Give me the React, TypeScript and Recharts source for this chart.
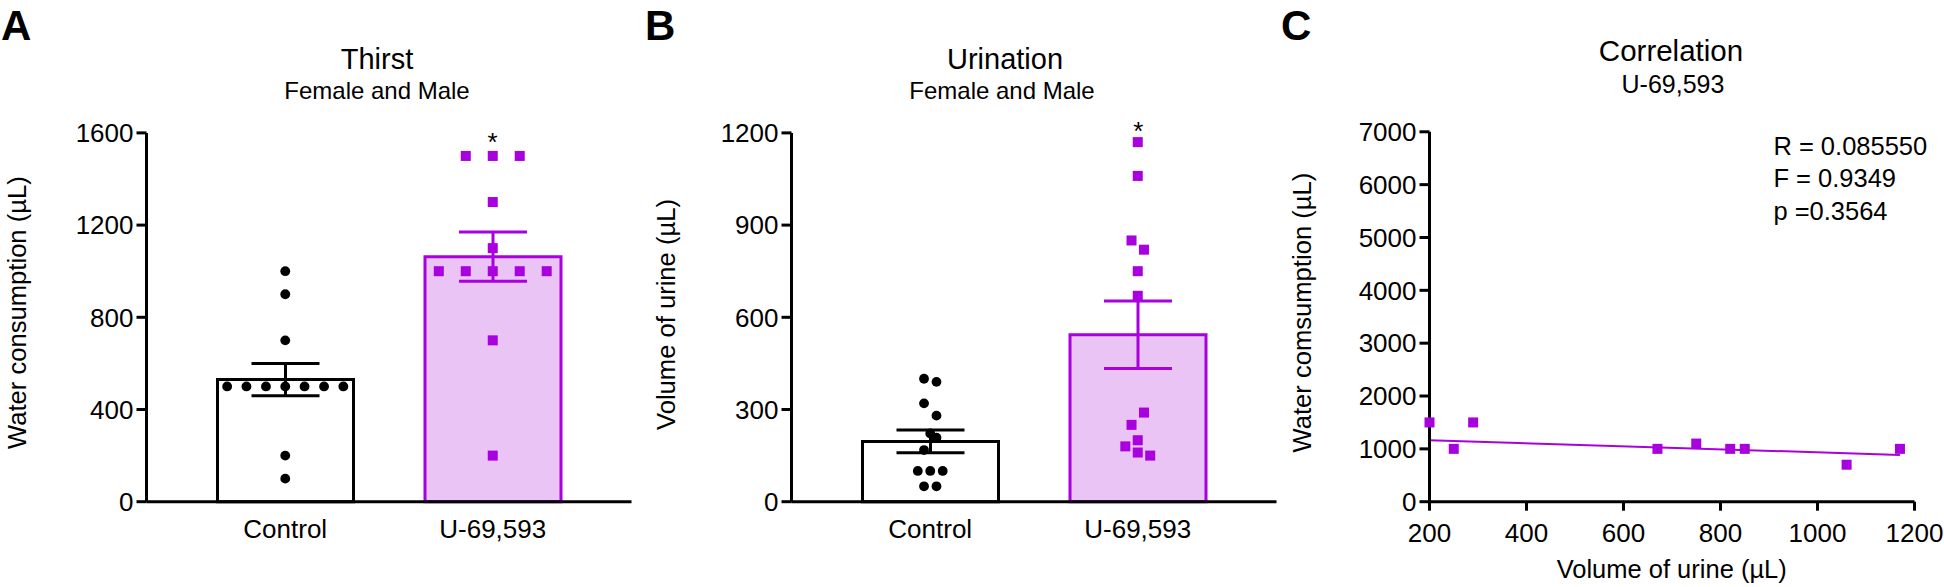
import React from 'react';
import { ComposedChart, Bar, Cell, ErrorBar, Scatter, Line, XAxis, YAxis } from 'recharts';

const groups = ['Control', 'U-69,593'];

// A: thirst
const thirstMean = [530, 1063];
const thirstSem = [70, 107];
const thirstControl = [1000, 900, 700, 500, 500, 500, 500, 500, 500, 500, 200, 100];
const thirstControlX = [0, 0, 0, -0.28, -0.187, -0.093, 0, 0.093, 0.187, 0.28, 0, 0];
const thirstDrug = [1500, 1500, 1500, 1300, 1100, 1000, 1000, 1000, 1000, 1000, 700, 200];
const thirstDrugX = [0.87, 1, 1.13, 1, 1, 0.74, 0.87, 1, 1.13, 1.26, 1, 1];
const thirstTicks = [0, 400, 800, 1200, 1600];

// B: urination
const urineMean = [196, 543];
const urineSem = [37, 110];
const urineControl = [400, 390, 320, 280, 222, 208, 168, 100, 100, 100, 50, 50];
const urineControlX = [-0.03, 0.03, -0.03, 0.03, 0, 0.03, -0.03, -0.06, 0, 0.06, -0.03, 0.03];
const urineDrug = [1170, 1060, 850, 820, 750, 670, 290, 250, 200, 180, 160, 150];
const urineDrugX = [1, 1, 0.97, 1.03, 1, 1, 1.03, 0.97, 1, 0.94, 1, 1.06];
const urineTicks = [0, 300, 600, 900, 1200];

// C: correlation
const corrUrine = [200, 250, 290, 670, 750, 820, 850, 1060, 1170];
const corrWater = [1500, 1000, 1500, 1000, 1100, 1000, 1000, 700, 1000];
const fitUrine = [200, 1170];
const fitWater = [1162, 886];
const corrXTicks = [200, 400, 600, 800, 1000, 1200];
const corrYTicks = [0, 1000, 2000, 3000, 4000, 5000, 6000, 7000];

const PURPLE = '#A800DE';
const LILAC = '#EBC4F6';
const FONT = '"Liberation Sans", Arial, sans-serif';
const TICK = { fill: '#000', fontSize: 26 };
const AXIS = { stroke: '#000', strokeWidth: 3 };

const dot = (p: any) => <circle cx={p.cx} cy={p.cy} r={4.9} fill="#000" />;
const square = (p: any) => <rect x={p.cx - 5} y={p.cy - 5} width={10} height={10} fill={PURPLE} />;

const pts = (ys: number[], xs: number[]) => ys.map((y, i) => ({ x: xs[i], y }));

type BarPanelProps = {
  left: number;
  means: number[];
  sems: number[];
  ctrl: number[];
  ctrlX: number[];
  drug: number[];
  drugX: number[];
  yTicks: number[];
};

const BarPanel = ({ left, means, sems, ctrl, ctrlX, drug, drugX, yTicks }: BarPanelProps) => {
  const rows = groups.map((g, i) => ({
    name: g,
    mean: means[i],
    ctrlErr: i === 0 ? sems[i] : null,
    drugErr: i === 1 ? sems[i] : null,
  }));
  return (
    <div style={{ position: 'absolute', left, top: 0 }}>
      <ComposedChart width={640} height={587} data={rows} margin={{ top: 132.9, right: 8.5, left: 76.5, bottom: 35.3 }}>
        <XAxis
          xAxisId="cat"
          dataKey="name"
          interval={0}
          height={50}
          padding={{ left: 35, right: 35 }}
          axisLine={AXIS}
          tickLine={false}
          tickSize={10}
          tickMargin={8}
          tick={TICK}
        />
        <XAxis xAxisId="num" type="number" dataKey="x" domain={[-0.5, 1.5]} padding={{ left: 35, right: 35 }} hide />
        <YAxis
          domain={[0, yTicks[yTicks.length - 1]]}
          ticks={yTicks}
          width={70}
          axisLine={AXIS}
          tickLine={AXIS}
          tickSize={10}
          tickMargin={3}
          tick={TICK}
        />
        <Bar xAxisId="cat" dataKey="mean" barSize={136} strokeWidth={3} isAnimationActive={false}>
          <Cell fill="#fff" stroke="#000" />
          <Cell fill={LILAC} stroke={PURPLE} />
          <ErrorBar dataKey="ctrlErr" width={34} stroke="#000" strokeWidth={3} direction="y" />
          <ErrorBar dataKey="drugErr" width={34} stroke={PURPLE} strokeWidth={3} direction="y" />
        </Bar>
        <Scatter xAxisId="num" data={pts(ctrl, ctrlX)} dataKey="y" shape={dot} isAnimationActive={false} />
        <Scatter xAxisId="num" data={pts(drug, drugX)} dataKey="y" shape={square} isAnimationActive={false} />
      </ComposedChart>
    </div>
  );
};

const CorrPanel = () => (
  <div style={{ position: 'absolute', left: 1282.5, top: 0 }}>
    <ComposedChart width={660} height={587} margin={{ top: 131.8, right: 28.5, left: 76.5, bottom: 35.3 }}>
      <XAxis
        type="number"
        dataKey="x"
        domain={[200, 1200]}
        ticks={corrXTicks}
        height={50}
        axisLine={AXIS}
        tickLine={AXIS}
        tickSize={9}
        tickMargin={13}
        tick={TICK}
      />
      <YAxis
        domain={[0, 7000]}
        ticks={corrYTicks}
        width={70}
        axisLine={AXIS}
        tickLine={AXIS}
        tickSize={10}
        tickMargin={3}
        tick={TICK}
      />
      <Line
        data={fitUrine.map((x, i) => ({ x, y: fitWater[i] }))}
        dataKey="y"
        stroke={PURPLE}
        strokeWidth={2}
        dot={false}
        isAnimationActive={false}
      />
      <Scatter data={pts(corrWater, corrUrine)} dataKey="y" shape={square} isAnimationActive={false} />
    </ComposedChart>
  </div>
);

const Txt = ({ x, y, size, children, anchor = 'middle', bold = false, rot = false }: any) => (
  <text
    x={x}
    y={y}
    fontSize={size}
    textAnchor={anchor}
    fontWeight={bold ? 700 : 400}
    fill="#000"
    transform={rot ? `rotate(-90 ${x} ${y})` : undefined}
  >
    {children}
  </text>
);

export default function App() {
  return (
    <div style={{ position: 'absolute', left: 0, top: 0, width: 1944, height: 587, background: '#fff', fontFamily: FONT, overflow: 'hidden' }}>
      <BarPanel left={0} means={thirstMean} sems={thirstSem} ctrl={thirstControl} ctrlX={thirstControlX}
        drug={thirstDrug} drugX={thirstDrugX} yTicks={thirstTicks} />
      <BarPanel left={645} means={urineMean} sems={urineSem} ctrl={urineControl} ctrlX={urineControlX}
        drug={urineDrug} drugX={urineDrugX} yTicks={urineTicks} />
      <CorrPanel />
      <svg width={1944} height={587} style={{ position: 'absolute', left: 0, top: 0, pointerEvents: 'none', fontFamily: FONT }}>
        <Txt x={1} y={39.5} size={42} anchor="start" bold>A</Txt>
        <Txt x={645} y={39.5} size={42} anchor="start" bold>B</Txt>
        <Txt x={1281} y={39.5} size={42} anchor="start" bold>C</Txt>

        <Txt x={377} y={69.3} size={29}>Thirst</Txt>
        <Txt x={377} y={99.2} size={24}>Female and Male</Txt>
        <Txt x={1005} y={69.3} size={29}>Urination</Txt>
        <Txt x={1002} y={99.2} size={24}>Female and Male</Txt>
        <Txt x={1671} y={61} size={29.5}>Correlation</Txt>
        <Txt x={1673} y={93} size={25}>U-69,593</Txt>

        <Txt x={492.5} y={150.5} size={26}>*</Txt>
        <Txt x={1138.3} y={139.8} size={26}>*</Txt>

        <Txt x={26} y={312.6} size={25.6} rot>Water consumption (µL)</Txt>
        <Txt x={674.6} y={314.5} size={25.6} rot>Volume of urine (µL)</Txt>
        <Txt x={1310.6} y={312.6} size={25.6} rot>Water comsumption (µL)</Txt>
        <Txt x={1671.7} y={578.4} size={25.5} >Volume of urine (µL)</Txt>

        <Txt x={1773.4} y={154.6} size={25.5} anchor="start">R = 0.085550</Txt>
        <Txt x={1773.4} y={187.4} size={25.5} anchor="start">F = 0.9349</Txt>
        <Txt x={1773.4} y={220.2} size={25.5} anchor="start">p =0.3564</Txt>
      </svg>
    </div>
  );
}
